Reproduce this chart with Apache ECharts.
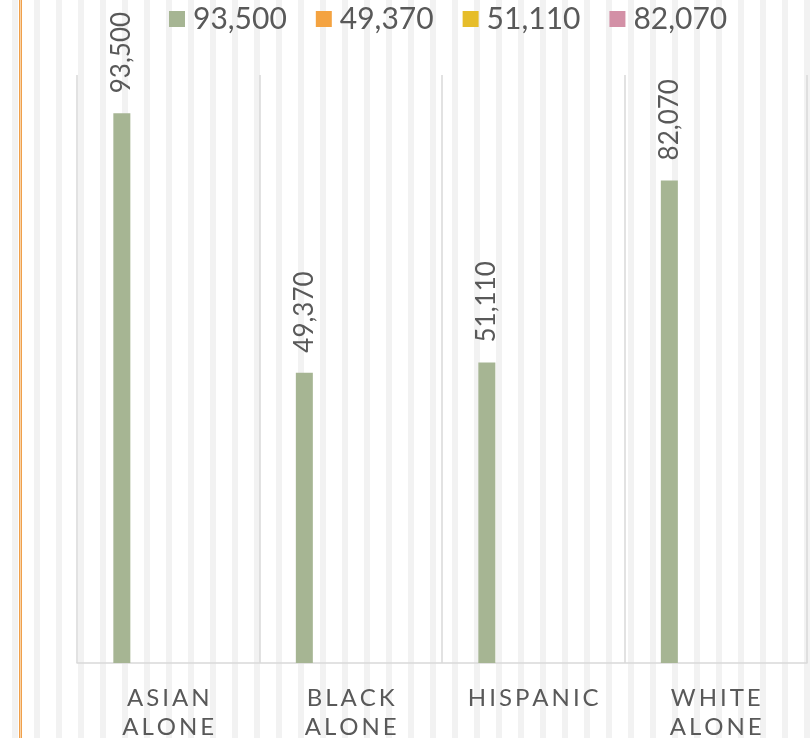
<!DOCTYPE html>
<html>
<head>
<meta charset="utf-8">
<script src="https://cdn.jsdelivr.net/npm/echarts@6/dist/echarts.min.js"></script>
<style>
  html, body { margin: 0; padding: 0; }
  #wrap {
    position: relative;
    width: 811px;
    height: 738px;
    background-color: #fff;
    background-image: repeating-linear-gradient(to right, #f2f2f2 0px, #f2f2f2 6px, #ffffff 6px, #ffffff 22px);
    background-position: 12px 0;
  }
  #edge {
    position: absolute;
    left: 19px;
    top: 0;
    width: 1px;
    height: 738px;
    border-left: 1px solid #f0a04b;
    border-right: 1px solid #f0a04b;
    background: #f8d3a8;
  }
  #chart { position: absolute; left: 0; top: 0; width: 811px; height: 738px; }
</style>
</head>
<body>
<div id="wrap">
  <div id="edge"></div>
  <div id="chart"></div>
</div>
<script>
// categories and values
var categories = ['ASIAN ALONE', 'BLACK ALONE', 'HISPANIC', 'WHITE ALONE'];
var incomes = [93500, 49370, 51110, 82070];
var seriesNames = ['93,500', '49,370', '51,110', '82,070'];
var seriesColors = ['#a6b593', '#f4a341', '#e6bd2a', '#d390a6'];

var chartDom = document.getElementById('chart');
var myChart = echarts.init(chartDom, null, { renderer: 'canvas' });

// wide letter spacing like the original, one word per line
function spaced(s) {
  return s.split(' ').map(function (w) {
    return w.split('').join('\u2009');
  }).join('\n');
}

var series = seriesNames.map(function (name, i) {
  return {
    name: name,
    type: 'bar',
    barWidth: 17,
    barGap: '82%',
    itemStyle: { color: seriesColors[i] },
    label: {
      show: true,
      position: 'top',
      rotate: 90,
      align: 'left',
      verticalAlign: 'middle',
      distance: 20,
      color: '#595959',
      fontSize: 26,
      fontFamily: 'Lato',
      formatter: function (p) { return p.value.toLocaleString('en-US'); }
    },
    data: i === 0 ? incomes : []
  };
});

var option = {
  backgroundColor: 'transparent',
  animation: false,
  legend: {
    left: 169,
    top: 4,
    padding: 0,
    itemWidth: 16,
    itemHeight: 16,
    itemGap: 29,
    icon: 'rect',
    textStyle: { color: '#595959', fontSize: 30, fontFamily: 'Lato', padding: [0, 0, 0, 3] },
    data: seriesNames
  },
  grid: { left: 77, right: 4, top: 75, bottom: 75, outerBoundsMode: 'none', containLabel: false },
  xAxis: {
    type: 'category',
    data: categories,
    axisLine: { lineStyle: { color: '#d9d9d9', width: 1.5 } },
    axisTick: { show: false },
    splitLine: { show: true, lineStyle: { color: '#d9d9d9', width: 1.5 } },
    axisLabel: {
      color: '#595959',
      fontSize: 24,
      fontFamily: 'Lato',
      lineHeight: 29,
      margin: 21,
      formatter: spaced
    }
  },
  yAxis: {
    type: 'value',
    min: 0,
    max: 100000,
    show: false,
    splitLine: { show: false }
  },
  series: series
};

option && myChart.setOption(option);
</script>
</body>
</html>
